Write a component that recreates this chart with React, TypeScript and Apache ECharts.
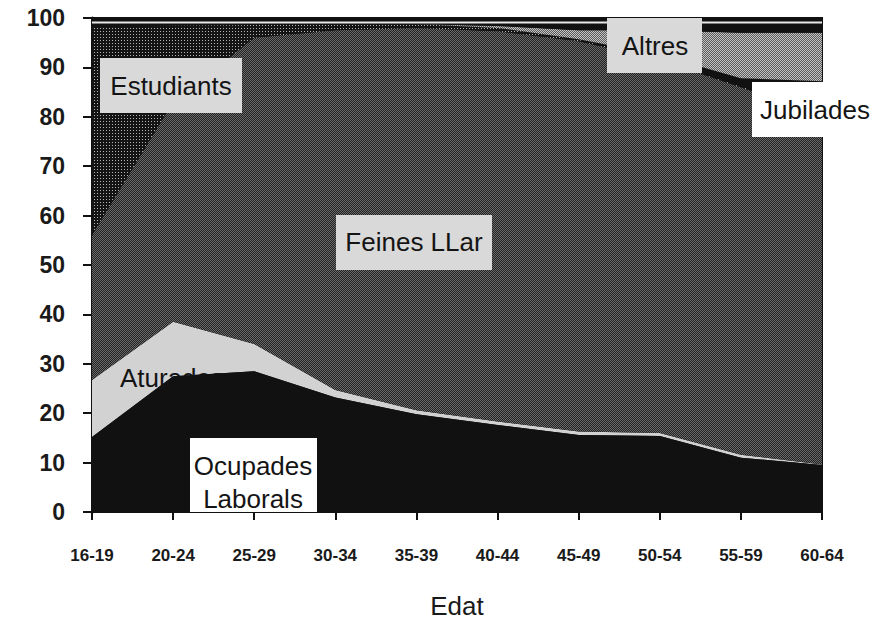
import React, { useEffect, useRef } from "react";
import * as echarts from "echarts";

const categories = ["16-19", "20-24", "25-29", "30-34", "35-39", "40-44", "45-49", "50-54", "55-59", "60-64"];
const yTicks = [0, 10, 20, 30, 40, 50, 60, 70, 80, 90, 100];

// Thickness of each stacked layer (percent)
const ocupades = [15.2, 27.5, 28.5, 23.2, 19.8, 17.6, 15.6, 15.4, 11.0, 9.5];
const aturades = [11.5, 11.0, 5.5, 1.5, 0.8, 0.7, 0.7, 0.6, 0.6, 0.1];
const feinesLlar = [29.3, 44.5, 62.0, 72.8, 77.4, 79.0, 79.0, 75.5, 74.4, 70.4];
const estudiants = [42.3, 15.5, 2.6, 1.3, 0.8, 0.7, 0.3, 0.2, 0.2, 0.2];
const jubilades = [0, 0, 0, 0, 0, 0, 0.1, 0.8, 1.6, 7.0];
const altres = [0, 0, 0, 0, 0, 0.4, 1.8, 5.0, 9.2, 9.8];
const resta = [0.8, 0.6, 0.5, 0.3, 0.3, 0.7, 1.6, 1.6, 2.1, 2.1];

const FONT = "'Liberation Sans', Arial, Helvetica, sans-serif";

function makePattern(size: number, bg: string, fg: string, dots: number[][]) {
  const c = document.createElement("canvas");
  c.width = size;
  c.height = size;
  const ctx = c.getContext("2d")!;
  ctx.fillStyle = bg;
  ctx.fillRect(0, 0, size, size);
  ctx.fillStyle = fg;
  dots.forEach(([x, y]) => ctx.fillRect(x, y, 1, 1));
  return { image: c, repeat: "repeat" } as any;
}

export default function App() {
  const ref = useRef<HTMLDivElement>(null);
  useEffect(() => {
    if (!ref.current) return;
    const chart = echarts.init(ref.current, undefined, { renderer: "svg" });

    const feinesPat = makePattern(2, "#222222", "#6a6a6a", [[0, 0], [1, 1]]);
    const estudPat = makePattern(3, "#141414", "#b4b4b4", [[1, 1]]);
    const altresPat = makePattern(2, "#5a5a5a", "#c4c4c4", [[0, 0], [1, 1]]);

    const mk = (name: string, data: number[], color: any, z = 2, extra: any = {}) => ({
      name,
      type: "line",
      stack: "total",
      data,
      symbol: "none",
      z,
      lineStyle: { width: 0 },
      areaStyle: { color, opacity: 1 },
      ...extra,
    });

    const box = (x: number, y: number, w: number, h: number, fill: string, lines: string[], cx: number, cy: number[]) => [
      { type: "rect", z: 100, shape: { x, y, width: w, height: h }, style: { fill } },
      ...lines.map((t, i) => ({
        type: "text",
        z: 101,
        x: cx,
        y: cy[i],
        style: { text: t, fill: "#141414", font: `26px ${FONT}`, textAlign: "center", textVerticalAlign: "middle" },
      })),
    ];

    chart.setOption({
      animation: false,
      grid: {
        left: 92,
        right: 55,
        top: 18,
        bottom: 115,
        outerBoundsMode: "none",
        containLabel: false,
        show: true,
        backgroundColor: "#111",
        borderColor: "#111",
        borderWidth: 2,
      },
      xAxis: {
        type: "category",
        data: categories,
        boundaryGap: false,
        axisLine: { lineStyle: { color: "#111", width: 2 } },
        axisTick: { show: true, length: 8, lineStyle: { color: "#111", width: 2 } },
        axisLabel: { fontSize: 17, fontWeight: "bold", color: "#1a1a1a", margin: 35, fontFamily: FONT },
        name: "Edat",
        nameLocation: "middle",
        nameGap: 81,
        nameTextStyle: { fontSize: 26, color: "#1a1a1a", fontFamily: FONT },
      },
      yAxis: {
        type: "value",
        min: 0,
        max: 100,
        interval: 10,
        splitLine: { show: false },
        axisLine: { show: true, lineStyle: { color: "#111", width: 3 } },
        axisTick: { show: true, length: 9, lineStyle: { color: "#111", width: 2 } },
        axisLabel: {
          fontSize: 23,
          fontWeight: "bold",
          color: "#1a1a1a",
          margin: 27,
          fontFamily: FONT,
          formatter: (v: number) => (yTicks.includes(v) ? String(v) : ""),
        },
      },
      series: [
        mk("Ocupades Laborals", ocupades, "#111", 4),
        mk("Aturades", aturades, "#d2d2d2", 2),
        mk("Feines LLar", feinesLlar, feinesPat, 2),
        mk("Estudiants", estudiants, estudPat, 2),
        mk("Jubilades", jubilades, "#111", 2),
        mk("Altres", altres, altresPat, 2),
        mk("resta", resta, "#111", 2, { lineStyle: { width: 2, color: "#e8e8e8" } }),
      ],
      graphic: [
        {
          type: "text",
          z: 3,
          x: 172,
          y: 378,
          style: { text: "Aturades", fill: "#141414", font: `26px ${FONT}`, textAlign: "center", textVerticalAlign: "middle" },
        },
        ...box(100, 58, 142, 55, "#d9d9d9", ["Estudiants"], 171, [86]),
        ...box(607, 18, 95, 55, "#d9d9d9", ["Altres"], 655, [46]),
        ...box(752, 82, 125, 55, "#ffffff", ["Jubilades"], 815, [110]),
        ...box(336, 215, 156, 55, "#d9d9d9", ["Feines LLar"], 414, [242]),
        ...box(190, 438, 127, 74, "#ffffff", ["Ocupades", "Laborals"], 253, [466, 499]),
      ],
    });
    return () => chart.dispose();
  }, []);
  return <div ref={ref} style={{ width: 877, height: 627, position: "absolute", left: 0, top: 0 }} />;
}
